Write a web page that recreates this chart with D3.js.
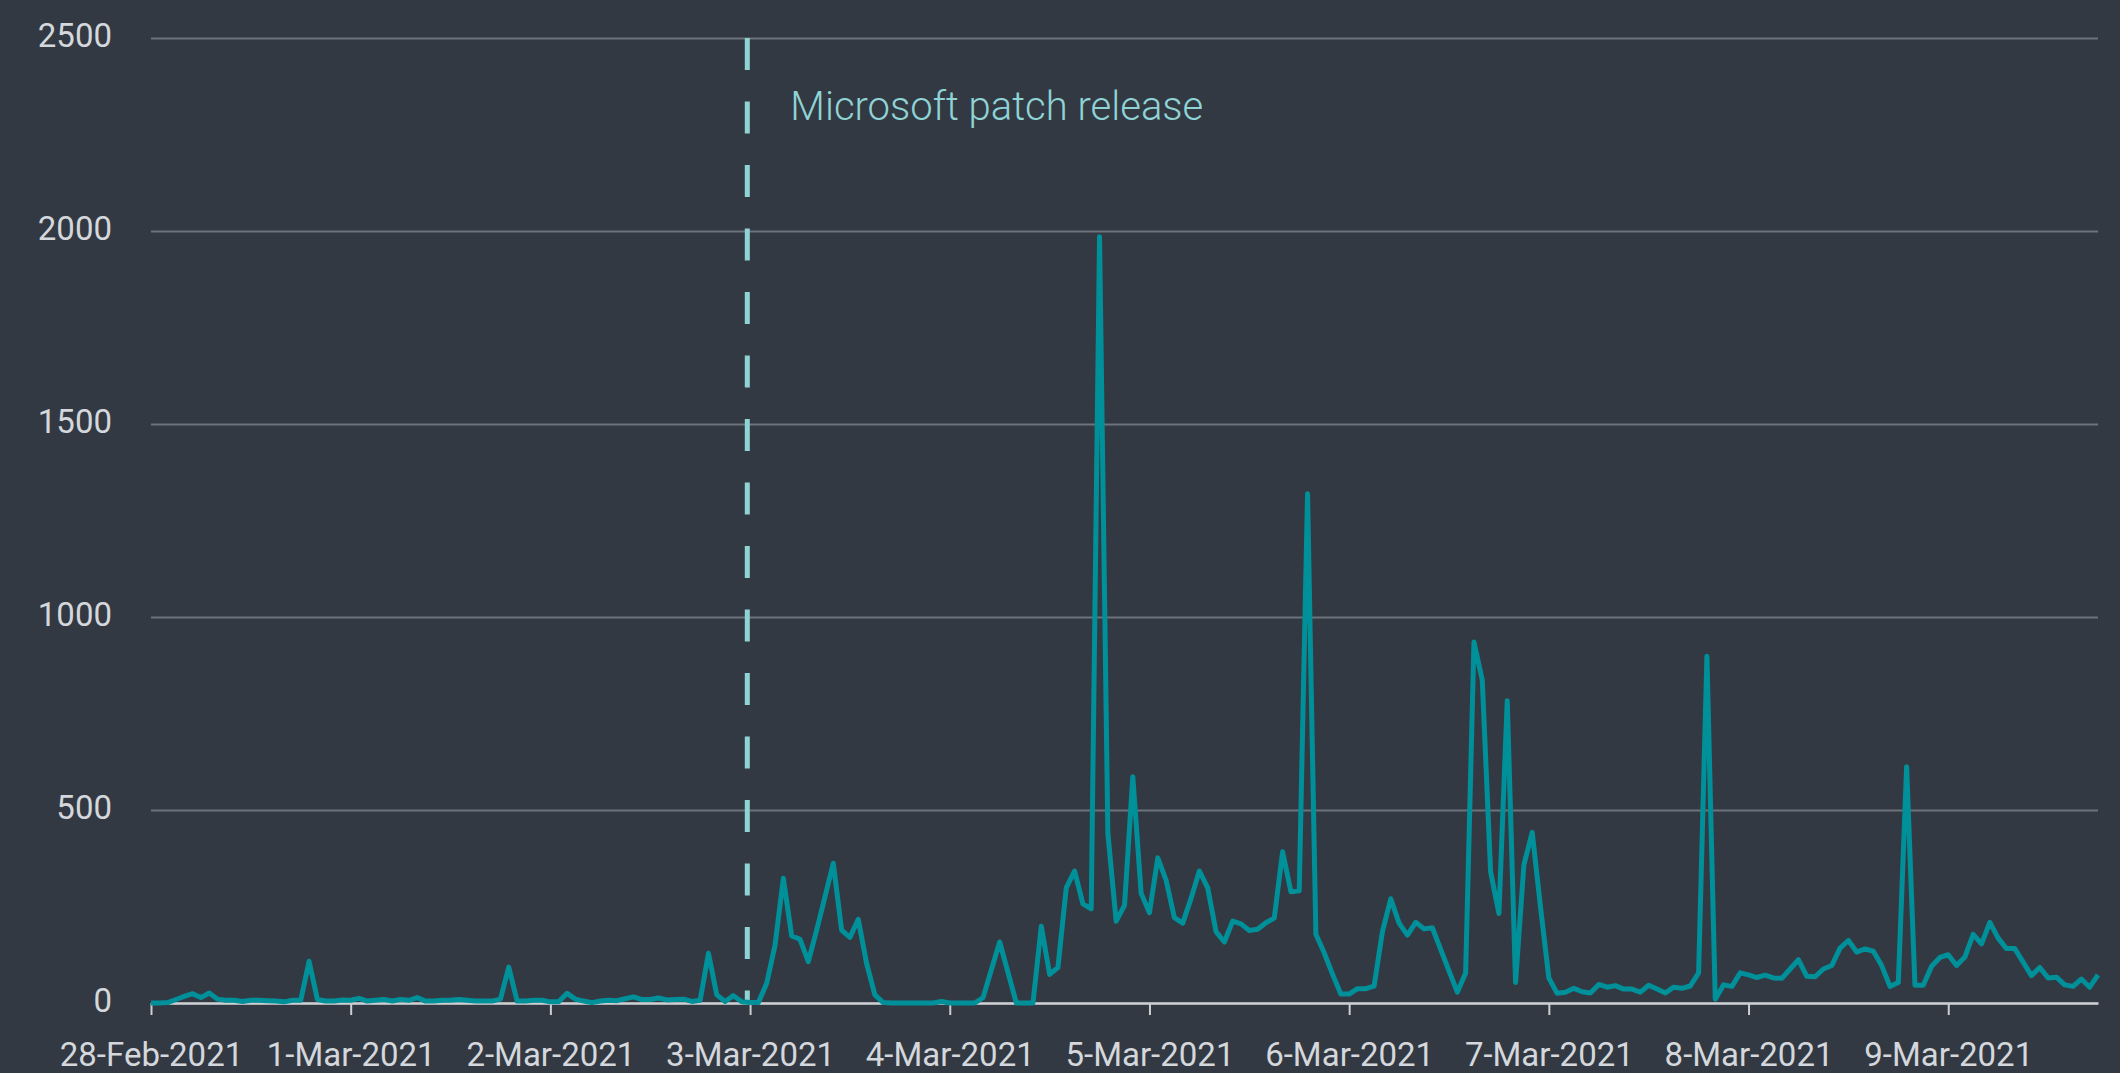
<!DOCTYPE html>
<html>
<head>
<meta charset="utf-8">
<script src="https://d3js.org/d3.v7.min.js"></script>
<style>
  body { margin: 0; background: #323943; }
  .canvas svg { display: block; }
</style>
</head>
<body>
<div class="canvas"></div>
<script>
// day labels on the x axis, one per tick
const dayLabels = ['28-Feb-2021', '1-Mar-2021', '2-Mar-2021', '3-Mar-2021', '4-Mar-2021',
  '5-Mar-2021', '6-Mar-2021', '7-Mar-2021', '8-Mar-2021', '9-Mar-2021'];
const yTicks = [0, 500, 1000, 1500, 2000, 2500];

// hourly counts, one array per day (hour 0 .. 23)
const feb28 = [0, 0, 1, 9, 17, 24, 14, 26, 10, 7, 7, 4, 7, 7, 6, 5, 3, 7, 7, 108, 9, 5, 5, 8];
const mar01 = [7, 12, 5, 7, 9, 5, 9, 7, 14, 5, 5, 7, 7, 9, 7, 5, 5, 5, 10, 93, 5, 5, 7, 7];
const mar02 = [3, 3, 25, 10, 5, 1, 5, 7, 6, 11, 16, 9, 9, 13, 8, 9, 10, 4, 7, 129, 21, 4, 19, 3];
const mar03 = [1, 1, 51, 150, 323, 174, 165, 107, 189, 275, 362, 189, 170, 217, 103, 21, 1, 0, 0, 0, 0, 0, 0, 4];
const mar04 = [0, 0, 0, 0, 14, 86, 158, 79, 0, 0, 0, 199, 74, 92, 298, 342, 257, 244, 1985, 440, 212, 253, 586, 284];
const mar05 = [234, 376, 318, 221, 207, 271, 342, 298, 185, 158, 212, 205, 188, 191, 208, 220, 392, 288, 291, 1319, 178, 130, 75, 23];
const mar06 = [23, 37, 37, 44, 185, 270, 207, 176, 209, 192, 195, 139, 83, 28, 78, 935, 836, 340, 232, 783, 53, 358, 442, 248];
const mar07 = [65, 25, 28, 38, 29, 26, 48, 41, 45, 36, 36, 28, 46, 36, 26, 41, 38, 44, 78, 898, 10, 47, 43, 78];
const mar08 = [73, 66, 72, 65, 64, 88, 112, 69, 68, 88, 97, 142, 162, 132, 140, 134, 97, 43, 53, 612, 46, 46, 95, 118];
const mar09 = [125, 97, 119, 178, 153, 209, 168, 141, 141, 106, 71, 92, 65, 67, 47, 43, 62, 41, 73];

const patchLabel = 'Microsoft patch release';
const patchTime = '2-Mar-2021 23:40';

const parseDay = d3.timeParse('%d-%b-%Y');
const parseTime = d3.timeParse('%d-%b-%Y %H:%M');

const hourly = [feb28, mar01, mar02, mar03, mar04, mar05, mar06, mar07, mar08, mar09];
const data = hourly.flatMap((day, i) =>
  day.map((v, h) => ({ time: d3.timeHour.offset(parseDay(dayLabels[i]), h), count: v })));

const margin = { top: 38, right: 22, bottom: 70, left: 151 };
const width = 2120 - margin.left - margin.right;
const height = 1073 - margin.top - margin.bottom;

const svg = d3.select('.canvas')
  .append('svg')
    .attr('width', 2120)
    .attr('height', 1073);

svg.append('rect')
  .attr('width', 2120)
  .attr('height', 1073)
  .attr('fill', '#323943');

const graph = svg.append('g')
  .attr('transform', `translate(${margin.left}, ${margin.top})`);

const x = d3.scaleTime()
  .domain(d3.extent(data, d => d.time))
  .range([0, width]);

const y = d3.scaleLinear()
  .domain([0, 2500])
  .range([height, 0]);

// y axis with gridlines
const yAxis = d3.axisLeft(y)
  .tickValues(yTicks)
  .tickFormat(d3.format('d'))
  .tickSize(-width)
  .tickPadding(39);

const yAxisGroup = graph.append('g')
  .attr('class', 'y-axis')
  .call(yAxis);

yAxisGroup.select('.domain').remove();
yAxisGroup.selectAll('line')
  .attr('stroke', '#6d737b')
  .attr('stroke-width', 2);
yAxisGroup.selectAll('text')
  .attr('font-family', 'Roboto, sans-serif')
  .attr('font-size', '33px')
  .attr('fill', '#d4d7db')
  .attr('dy', 8);

// x axis
const xAxis = d3.axisBottom(x)
  .tickValues(dayLabels.map(parseDay))
  .tickFormat(d3.timeFormat('%-d-%b-%Y'))
  .tickSize(12)
  .tickSizeOuter(0);

const xAxisGroup = graph.append('g')
  .attr('class', 'x-axis')
  .attr('transform', `translate(0, ${height})`)
  .call(xAxis);

xAxisGroup.select('.domain')
  .attr('stroke', '#cdd0d3')
  .attr('stroke-width', 2.5);
xAxisGroup.selectAll('line')
  .attr('stroke', '#cdd0d3')
  .attr('stroke-width', 2);
xAxisGroup.selectAll('text')
  .attr('font-family', 'Roboto, sans-serif')
  .attr('font-size', '33px')
  .attr('fill', '#d4d7db')
  .attr('y', 63)
  .attr('dy', 0);

// patch release marker
const px = x(parseTime(patchTime));
graph.append('line')
  .attr('x1', px)
  .attr('x2', px)
  .attr('y1', y(2500))
  .attr('y2', y(0))
  .attr('stroke', '#8fd3d5')
  .attr('stroke-width', 5)
  .attr('stroke-dasharray', '32,31.5');

graph.append('text')
  .attr('x', px + 43)
  .attr('y', 82)
  .attr('font-family', 'Roboto, sans-serif')
  .attr('font-weight', 300)
  .attr('font-size', '40px')
  .attr('fill', '#8fd3d5')
  .text(patchLabel);

// the series line
const line = d3.line()
  .x(d => x(d.time))
  .y(d => y(d.count));

graph.append('path')
  .datum(data)
  .attr('fill', 'none')
  .attr('stroke', '#00909a')
  .attr('stroke-width', 5)
  .attr('stroke-linejoin', 'round')
  .attr('d', line);
</script>
</body>
</html>
